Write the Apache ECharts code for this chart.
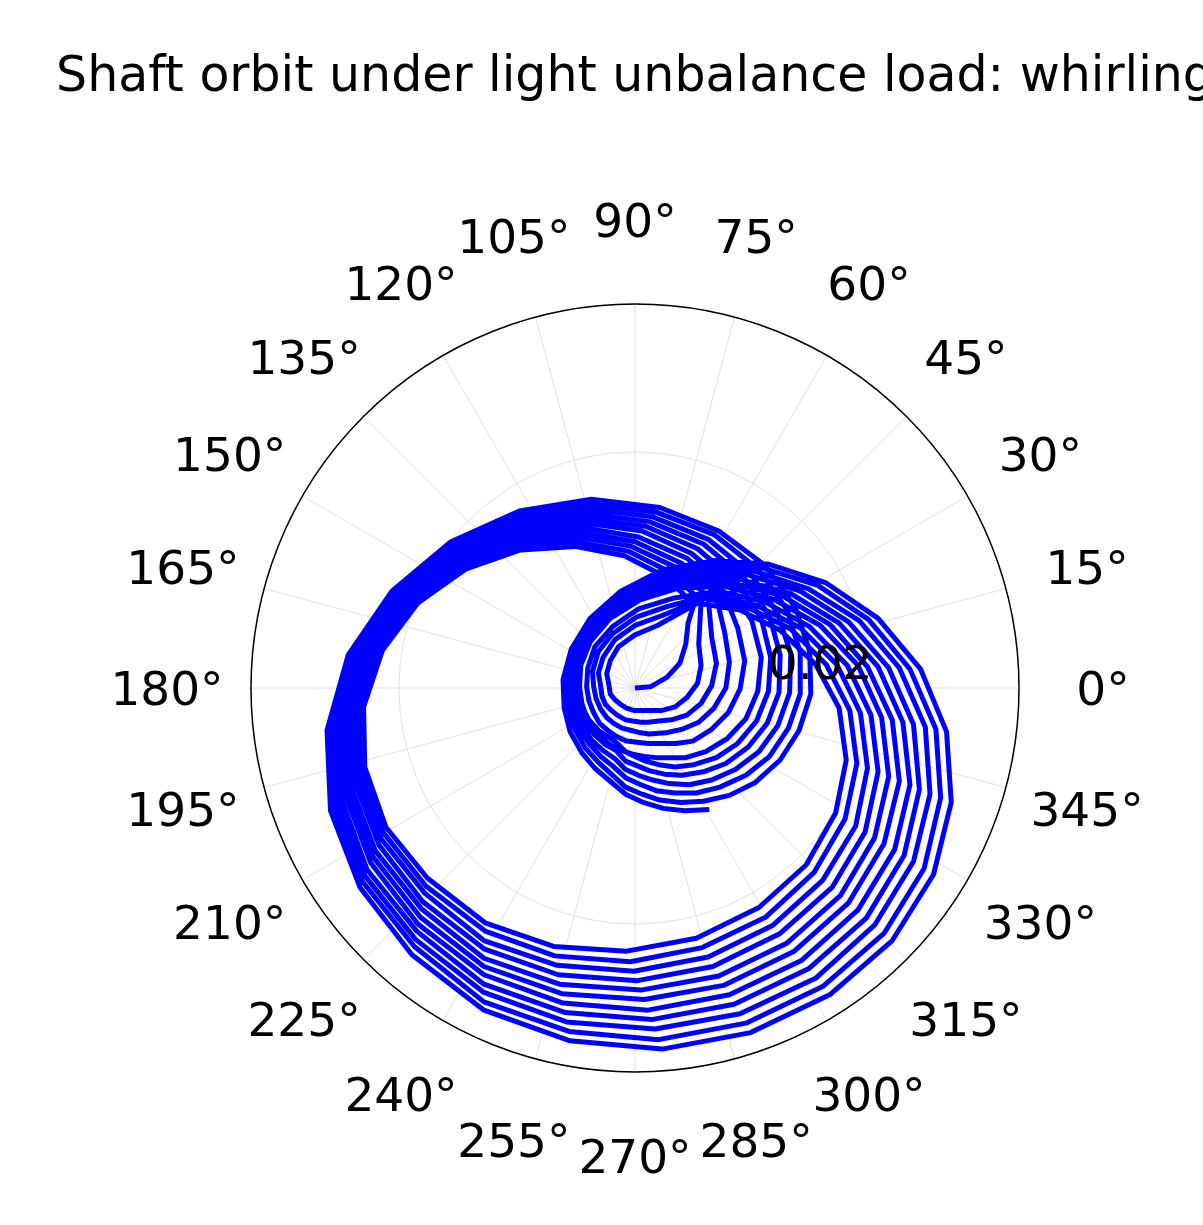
<!DOCTYPE html>
<html>
<head>
<meta charset="utf-8">
<script src="https://cdn.jsdelivr.net/npm/echarts@6/dist/echarts.min.js"></script>
<style>
html, body { margin: 0; padding: 0; background: #ffffff; }
#chart { width: 1203px; height: 1225px; }
</style>
</head>
<body>
<div id="chart"></div>
<script>
// Shaft centre orbit, one array per shaft revolution.
// Cartesian coordinates in units of 0.1 mm (x to the right, y up).
const rev00 = [[0,0],[13,1],[27,9],[38,21],[43,37],[45,55],[50,71],[26,94],[-9,112],[-51,120],[-97,117],[-143,101],[-184,72],[-214,32],[-230,-16],[-229,-67],[-211,-118],[-176,-161]];
const rev01 = [[-127,-199],[-69,-219],[-7,-223],[52,-212],[105,-186],[145,-150],[170,-106],[179,-61],[173,-17],[153,20],[123,49],[89,66],[53,72],[19,53],[0,45],[-14,35],[-21,23],[-24,12],[-22,2],[-21,-5],[-17,-10],[-12,-14],[-7,-17],[-1,-19]];
const rev02 = [[5,-19],[9,-19],[14,-19],[23,-19],[34,-16],[44,-8],[53,4],[56,19],[54,37],[56,74],[30,98],[-6,116],[-50,124],[-97,120],[-145,103],[-186,73],[-217,32],[-233,-18],[-232,-71],[-213,-123],[-177,-168]];
const rev03 = [[-127,-206],[-68,-227],[-4,-232],[57,-220],[111,-194],[152,-156],[178,-111],[188,-64],[182,-19],[162,20],[132,50],[96,68],[59,76],[22,61],[0,53],[-17,41],[-27,26],[-31,13],[-29,1],[-28,-7],[-25,-14],[-20,-19],[-15,-23],[-8,-27]];
const rev04 = [[-2,-28],[5,-29],[11,-29],[20,-28],[31,-27],[44,-23],[56,-13],[65,2],[69,21],[65,43],[62,77],[35,102],[-3,120],[-48,128],[-98,124],[-146,106],[-188,74],[-220,31],[-236,-20],[-235,-75],[-215,-128],[-178,-174]];
const rev05 = [[-128,-214],[-66,-235],[-1,-240],[62,-228],[117,-201],[159,-163],[187,-117],[197,-68],[191,-21],[171,20],[140,51],[103,70],[65,79],[27,69],[1,60],[-19,46],[-31,31],[-36,14],[-35,1],[-33,-9],[-29,-18],[-24,-25],[-18,-30],[-11,-34]];
const rev06 = [[-3,-36],[5,-38],[12,-39],[26,-38],[40,-35],[54,-29],[67,-17],[77,0],[80,22],[76,47],[68,81],[39,106],[0,124],[-47,132],[-98,127],[-147,108],[-191,75],[-222,31],[-239,-22],[-238,-78],[-217,-133],[-180,-181]];
const rev07 = [[-128,-221],[-65,-243],[2,-248],[66,-236],[123,-208],[167,-169],[195,-122],[206,-71],[200,-23],[180,19],[148,52],[110,73],[71,82],[32,76],[3,67],[-19,52],[-34,35],[-40,17],[-41,1],[-39,-11],[-35,-21],[-30,-30],[-23,-36],[-16,-41]];
const rev08 = [[-7,-45],[2,-46],[11,-47],[22,-47],[35,-47],[49,-45],[65,-35],[79,-21],[89,-1],[93,23],[87,51],[74,84],[44,110],[3,128],[-45,136],[-98,130],[-149,110],[-193,76],[-225,30],[-242,-24],[-241,-82],[-220,-138],[-181,-187]];
const rev09 = [[-128,-229],[-64,-251],[5,-256],[71,-244],[129,-216],[174,-176],[203,-127],[215,-75],[209,-25],[189,19],[157,53],[118,75],[77,86],[38,85],[5,75],[-21,59],[-38,39],[-46,19],[-47,1],[-45,-13],[-41,-25],[-35,-35],[-28,-43],[-20,-49]];
const rev10 = [[-11,-53],[-2,-56],[8,-58],[18,-59],[28,-59],[43,-59],[60,-54],[78,-43],[94,-26],[104,-3],[107,26],[99,57],[80,87],[48,114],[6,133],[-44,140],[-98,134],[-150,113],[-195,77],[-228,30],[-245,-26],[-243,-86],[-222,-143],[-182,-194]];
const rev11 = [[-128,-236],[-62,-259],[8,-264],[75,-252],[135,-223],[181,-182],[211,-132],[224,-79],[218,-27],[197,18],[165,54],[125,78],[83,89],[43,89],[8,79],[-20,63],[-38,43],[-47,22],[-49,2],[-46,-14],[-39,-27],[-31,-36],[-22,-42],[-15,-47]];
const rev12 = [[-8,-54],[0,-58],[9,-62],[20,-65],[34,-67],[50,-65],[69,-59],[87,-47],[103,-28],[113,-3],[115,26],[107,59],[86,90],[53,118],[9,137],[-43,144],[-98,137],[-151,115],[-197,78],[-231,29],[-248,-28],[-246,-89],[-224,-148],[-184,-200]];
const rev13 = [[-128,-243],[-61,-267],[11,-273],[80,-260],[141,-231],[189,-188],[220,-137],[233,-82],[227,-29],[206,18],[173,55],[132,80],[89,92],[47,93],[11,83],[-18,67],[-38,46],[-48,24],[-52,3],[-49,-15],[-42,-29],[-34,-40],[-25,-48],[-16,-53]];
const rev14 = [[-8,-62],[2,-66],[12,-70],[25,-73],[40,-74],[58,-71],[77,-64],[96,-50],[112,-30],[122,-4],[123,28],[114,61],[92,94],[58,122],[12,141],[-41,148],[-98,140],[-152,117],[-200,79],[-234,29],[-251,-30],[-249,-93],[-227,-154],[-185,-206]];
const rev15 = [[-128,-251],[-59,-275],[14,-281],[84,-268],[147,-238],[196,-195],[228,-142],[241,-86],[236,-31],[215,17],[181,56],[140,82],[95,96],[52,97],[14,87],[-17,71],[-38,49],[-50,26],[-54,4],[-52,-15],[-45,-31],[-37,-44],[-27,-53],[-17,-60]];
const rev16 = [[-8,-69],[3,-74],[15,-78],[29,-81],[46,-82],[65,-78],[85,-69],[105,-54],[121,-32],[131,-4],[132,29],[121,63],[98,97],[62,126],[15,145],[-40,152],[-98,143],[-154,119],[-202,80],[-237,28],[-255,-32],[-252,-97],[-229,-159],[-186,-213]];
const rev17 = [[-128,-258],[-58,-283],[17,-289],[89,-276],[153,-246],[203,-201],[236,-147],[250,-90],[246,-33],[224,17],[190,57],[147,84],[101,99],[56,101],[17,92],[-15,74],[-38,53],[-51,28],[-56,5],[-55,-16],[-48,-33],[-39,-47],[-29,-58],[-19,-66]];
const rev18 = [[-8,-76],[5,-82],[18,-87],[34,-89],[52,-89],[72,-84],[94,-74],[114,-58],[130,-34],[140,-5],[140,30],[129,66],[104,101],[67,130],[18,149],[-38,156],[-98,147],[-155,122],[-204,81],[-240,28],[-258,-34],[-255,-100],[-231,-164],[-187,-219]];
const rev19 = [[-128,-266],[-56,-291],[20,-298],[94,-284],[159,-253],[211,-208],[245,-153],[259,-93],[255,-35],[233,16],[198,58],[155,87],[107,102],[61,105],[20,96],[-14,78],[-38,56],[-52,31],[-58,6],[-57,-16],[-51,-35],[-42,-51],[-31,-63],[-20,-73]];
const rev20 = [[-8,-84],[6,-90],[21,-95],[39,-97],[58,-96],[80,-91],[102,-80],[123,-61],[139,-36],[149,-5],[148,31],[136,68],[110,104],[71,133],[21,153],[-37,160],[-98,150],[-156,124],[-206,82],[-243,28],[-261,-36],[-258,-104],[-233,-169],[-189,-226]];
const rev21 = [[-128,-273],[-55,-299],[23,-306],[98,-292],[165,-260],[218,-214],[253,-158],[268,-97],[264,-37],[242,16],[206,59],[162,89],[113,105],[66,108],[23,100],[-12,82],[-38,59],[-54,33],[-61,7],[-60,-17],[-55,-37],[-45,-55],[-34,-68],[-21,-79]];
const rev22 = [[-8,-90],[7,-97],[24,-102],[42,-104],[63,-103]];

// Axis ticks and text
const angleTicks = [0,15,30,45,60,75,90,105,120,135,150,165,180,195,210,225,240,255,270,285,300,315,330,345];
const radialTicks = [0.02];
const radialMax = 0.03254;
const titleText = 'Shaft orbit under light unbalance load: whirling';

const UNIT = 1e-4; // 0.1 mm -> m
const revolutions = [rev00, rev01, rev02, rev03, rev04, rev05, rev06, rev07, rev08, rev09, rev10,
  rev11, rev12, rev13, rev14, rev15, rev16, rev17, rev18, rev19, rev20, rev21, rev22];
const orbit = [];
revolutions.forEach(function (rev) {
  rev.forEach(function (p) {
    let a = Math.atan2(p[1], p[0]) * 180 / Math.PI;
    if (a < 0) a += 360;
    orbit.push([Math.hypot(p[0], p[1]) * UNIT, a]);
  });
});

const FONT = '"DejaVu Sans", "Liberation Sans", sans-serif';
const chart = echarts.init(document.getElementById('chart'), null, { renderer: 'canvas' });
chart.setOption({
  animation: false,
  backgroundColor: '#ffffff',
  polar: [
    { center: [635, 688], radius: 384 },
    { center: [635, 688], radius: 468 }
  ],
  angleAxis: [
    {
      polarIndex: 0, type: 'value', min: 0, max: 360, interval: 15,
      startAngle: 0, clockwise: false,
      axisLine: { show: true, lineStyle: { color: '#000000', width: 1.5 } },
      axisTick: { show: false },
      axisLabel: { show: false },
      splitLine: { show: true, lineStyle: { color: '#d9d9d9', width: 0.8 } }
    },
    {
      polarIndex: 1, type: 'value', min: 0, max: 360, interval: 15,
      startAngle: 0, clockwise: false,
      axisLine: { show: false }, axisTick: { show: false },
      axisLabel: { show: false }, splitLine: { show: false }
    }
  ],
  radiusAxis: [
    {
      polarIndex: 0, type: 'value', min: 0, max: radialMax, interval: 0.02,
      axisLine: { show: false }, axisTick: { show: false }, axisLabel: { show: false },
      splitLine: { show: true, lineStyle: { color: '#d9d9d9', width: 0.8 } }
    },
    {
      polarIndex: 1, type: 'value', min: 0, max: 1,
      axisLine: { show: false }, axisTick: { show: false }, axisLabel: { show: false },
      splitLine: { show: false }
    }
  ],
  series: [
    {
      type: 'line', coordinateSystem: 'polar', polarIndex: 0,
      data: orbit, showSymbol: false, symbol: 'none', silent: true,
      lineStyle: { color: '#0000ff', width: 5, join: 'round', cap: 'butt' },
      z: 3
    },
    {
      type: 'scatter', coordinateSystem: 'polar', polarIndex: 1, silent: true,
      data: angleTicks.map(function (a) { return [1, a]; }),
      symbolSize: 1, itemStyle: { color: 'rgba(0,0,0,0)', opacity: 1 },
      label: {
        show: true, position: 'inside', offset: [0, 5],
        formatter: function (p) { return p.value[1] + '°'; },
        fontSize: 47, fontFamily: FONT, color: '#000000', opacity: 1
      }
    },
    {
      type: 'scatter', coordinateSystem: 'polar', polarIndex: 0, silent: true,
      data: radialTicks.map(function (r) { return [r, 0]; }),
      symbolSize: 1, itemStyle: { color: 'rgba(0,0,0,0)', opacity: 1 },
      label: {
        show: true, position: 'left', distance: 1, offset: [3, -21],
        formatter: function (p) { return String(p.value[0]); },
        fontSize: 47, fontFamily: FONT, color: '#000000', opacity: 1
      },
      z: 5
    }
  ],
  graphic: [
    {
      type: 'text', x: 635, y: 78, silent: true,
      style: {
        text: titleText, font: '49px ' + FONT, fill: '#000000',
        align: 'center', verticalAlign: 'middle',
        textAlign: 'center', textVerticalAlign: 'middle'
      }
    }
  ]
});
</script>
</body>
</html>
